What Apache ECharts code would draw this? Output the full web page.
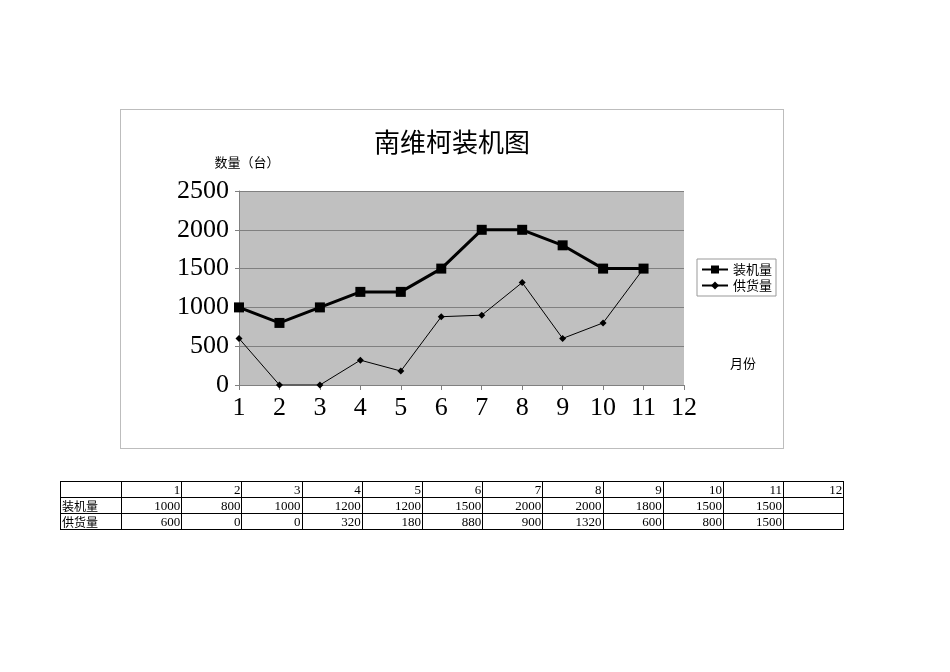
<!DOCTYPE html>
<html><head><meta charset="utf-8">
<script src="https://cdn.jsdelivr.net/npm/echarts@6/dist/echarts.min.js"></script>
<style>
html,body{margin:0;padding:0;background:#fff;}
#c{position:absolute;left:0;top:0;width:950px;height:672px;}
#frame{position:absolute;left:120px;top:109px;width:662px;height:338px;border:1px solid #bdbdbd;}
table{position:absolute;left:60px;top:481px;width:784px;table-layout:fixed;border-collapse:collapse;font-family:"Liberation Serif","DejaVu Serif",serif;font-size:13px;}
td{border:1px solid #000;height:15px;padding:0 1px;text-align:right;line-height:15px;overflow:hidden;white-space:nowrap;}
td.h{text-align:left;font-family:"Noto Sans CJK SC",sans-serif;font-size:12px;}
</style></head>
<body>
<div id="frame"></div>
<div id="c"></div>
<table id="t"><colgroup id="cg"></colgroup></table>
<script>
const months = ['1','2','3','4','5','6','7','8','9','10','11','12'];
const seriesNames = ['装机量','供货量'];
const installed = [1000,800,1000,1200,1200,1500,2000,2000,1800,1500,1500];
const supplied = [600,0,0,320,180,880,900,1320,600,800,1500];
const yTicks = [0,500,1000,1500,2000,2500];

// table
const t = document.getElementById('t');
const cg = document.getElementById('cg');
{
  const c0=document.createElement('col'); c0.style.width='61px'; cg.appendChild(c0);
  for(let i=0;i<months.length;i++){const c=document.createElement('col'); c.style.width='60.2px'; cg.appendChild(c);}
}
function row(head, vals){
  const tr = document.createElement('tr');
  const h = document.createElement('td'); h.className='h'; h.textContent=head; tr.appendChild(h);
  for(let i=0;i<months.length;i++){
    const td=document.createElement('td'); td.textContent = vals[i]===undefined?'':vals[i]; tr.appendChild(td);
  }
  t.appendChild(tr);
}
row('', months);
row(seriesNames[0], installed);
row(seriesNames[1], supplied);

const chart = echarts.init(document.getElementById('c'));
const serif = '"Liberation Serif","DejaVu Serif",serif';
const cjk = '"Noto Sans CJK SC",sans-serif';
chart.setOption({
  animation:false,
  title:{text:'南维柯装机图',left:447,top:124,textAlign:'center',
    textStyle:{fontFamily:cjk,fontSize:26,fontWeight:'normal',color:'#000'}},
  legend:{orient:'vertical',left:697,top:259,itemWidth:26,itemHeight:10,itemGap:3,
    borderColor:'#999',borderWidth:1,padding:[4,4,4,4],
    textStyle:{fontFamily:cjk,fontSize:13,color:'#000'},
    data:seriesNames},
  grid:{left:239,right:266,top:191,bottom:287,show:true,backgroundColor:'#c0c0c0',borderWidth:0},
  xAxis:{type:'category',data:months,boundaryGap:false,
    axisLine:{lineStyle:{color:'#808080'}},
    axisTick:{show:true,length:5,lineStyle:{color:'#808080'}},
    axisLabel:{fontFamily:serif,fontSize:26,color:'#000',margin:10}},
  yAxis:{type:'value',min:0,max:2500,interval:500,
    name:'数量（台）',nameLocation:'end',nameGap:22,
    nameTextStyle:{fontFamily:cjk,fontSize:13,color:'#000',align:'center',padding:[0,0,0,16]},
    axisLine:{show:true,lineStyle:{color:'#808080'}},
    axisTick:{show:true,length:4,lineStyle:{color:'#808080'}},
    splitLine:{lineStyle:{color:'#808080'}},
    axisLabel:{fontFamily:serif,fontSize:26,color:'#000',margin:10,
      formatter:v=>yTicks.includes(v)?String(v):''}},
  graphic:[{type:'text',left:730,top:357,style:{text:'月份',font:'13px '+cjk,fill:'#000'}}],
  series:[
    {name:seriesNames[0],type:'line',data:installed,symbol:'rect',symbolSize:10,
     lineStyle:{color:'#000',width:3},itemStyle:{color:'#000'}},
    {name:seriesNames[1],type:'line',data:supplied,symbol:'diamond',symbolSize:7,
     lineStyle:{color:'#000',width:1},itemStyle:{color:'#000'}}
  ]
});
</script>
</body></html>
